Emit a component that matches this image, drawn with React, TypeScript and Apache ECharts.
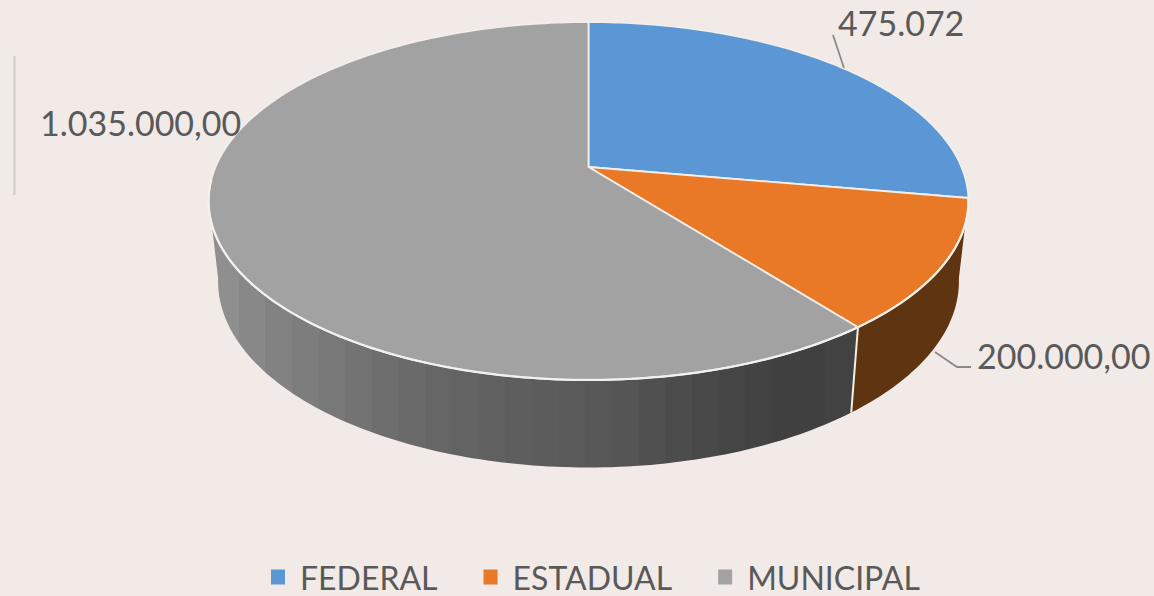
import React, { useEffect, useRef } from "react";
import * as echarts from "echarts";

const categories = ["FEDERAL", "ESTADUAL", "MUNICIPAL"];
const values = [475072, 200000, 1035000];
const valueLabels = ["475.072", "200.000,00", "1.035.000,00"];

const topColors = ["#5b97d5", "#e97827", "#a2a2a2"];
const FONT = "Lato, sans-serif";
const TEXT = "#595959";
const BG = "#f1eae7";
const EDGE = "#f2eeea";

// Perspective disc: a circle seen from above, apex at (CX, CY)
const CX = 588.5, CY = 167, A = 172.5, B = 373, K = 0.19;
const WALL_SX = 0.975, WALL_SY = 1.04, WALL_DY = 79;
const WALL_FROM = 100, WALL_TO = 260;

const project = (deg: number, wall = false): number[] => {
  const r = (deg * Math.PI) / 180;
  const sx = Math.sin(r), sy = -Math.cos(r);
  const w = 1 - K * sy;
  const x = (B * sx) / w, y = (A * sy) / w;
  return wall
    ? [CX + x * WALL_SX, CY + y * WALL_SY + WALL_DY]
    : [CX + x, CY + y];
};

const arc = (from: number, to: number, wall = false): number[][] => {
  const pts: number[][] = [];
  const n = Math.max(2, Math.ceil(Math.abs(to - from)));
  for (let i = 0; i <= n; i++) pts.push(project(from + ((to - from) * i) / n, wall));
  return pts;
};

const total = values.reduce((a, b) => a + b, 0);
const startAngle = (i: number) => (values.slice(0, i).reduce((a, b) => a + b, 0) / total) * 360;

const LABELS = [
  { x: 838, y: 22, line: [[833, 35], [844, 68]] },
  { x: 977, y: 355, line: [[935, 352], [957, 367], [971, 367]] },
  { x: 40, y: 122, line: null as number[][] | null },
];

// Grey wall shading: x position → grey level, drawn in narrow flat bands
const SHADE_X = [212, 260, 400, 500, 620, 700, 800, 852];
const SHADE_V = [146, 134, 107, 95, 86, 72, 63, 67];
const BAND_COUNT = 24;

const shadeAt = (x: number) => {
  let i = 0;
  while (i < SHADE_X.length - 2 && x > SHADE_X[i + 1]) i++;
  const t = (x - SHADE_X[i]) / (SHADE_X[i + 1] - SHADE_X[i]);
  return Math.round(SHADE_V[i] + (SHADE_V[i + 1] - SHADE_V[i]) * t);
};

const wallGradient = () => {
  const stops: { offset: number; color: string }[] = [];
  const x0 = SHADE_X[0], x1 = SHADE_X[SHADE_X.length - 1];
  for (let b = 0; b < BAND_COUNT; b++) {
    const v = shadeAt(x0 + ((b + 0.5) / BAND_COUNT) * (x1 - x0));
    const color = `rgb(${v},${v},${v})`;
    stops.push({ offset: b / BAND_COUNT, color });
    stops.push({ offset: (b + 1) / BAND_COUNT, color });
  }
  return new echarts.graphic.LinearGradient(x0, 0, x1, 0, stops, true);
};

const wallFill = (i: number): any => (i === 1 ? "#5f3410" : i === 2 ? wallGradient() : "none");

const renderSlice = (index: number) => () => {
  const a0 = startAngle(index);
  const a1 = startAngle(index + 1);
  const children: any[] = [];
  // side wall: only the part facing the viewer
  const w0 = Math.max(a0, WALL_FROM);
  const w1 = Math.min(a1, WALL_TO);
  if (w1 > w0) {
    children.push({
      type: "polygon",
      shape: { points: [...arc(w0, w1), ...arc(w1, w0, true)] },
      style: { fill: wallFill(index) },
    });
  }
  // light divider where estadual and municipal meet on the wall
  if (index === 2) {
    children.push({
      type: "line",
      shape: {
        x1: project(a0)[0], y1: project(a0)[1],
        x2: project(a0, true)[0], y2: project(a0, true)[1],
      },
      style: { stroke: EDGE, lineWidth: 2 },
    });
  }
  // top face
  children.push({
    type: "polygon",
    shape: { points: [[CX, CY], ...arc(a0, a1)] },
    style: { fill: topColors[index], stroke: EDGE, lineWidth: 1.8, lineJoin: "round" },
  });
  // brighter rim along the front of the top face
  if (w1 > w0) {
    children.push({
      type: "polyline",
      shape: { points: arc(w0, Math.min(a1, WALL_TO + 6)) },
      style: { stroke: "#f3f1ee", lineWidth: 2.2, fill: "none" },
    });
  }
  // leader and value label
  const lab = LABELS[index];
  if (lab.line) {
    children.push({
      type: "polyline",
      shape: { points: lab.line },
      style: { stroke: "#8c8a88", lineWidth: 1.8, fill: "none" },
    });
  }
  children.push({
    type: "text",
    z2: 50,
    style: {
      text: valueLabels[index],
      x: lab.x,
      y: lab.y,
      fill: TEXT,
      font: `34px ${FONT}`,
      textAlign: "left",
      verticalAlign: "middle",
    },
  });
  return { type: "group", children };
};

export default function App() {
  const ref = useRef<HTMLDivElement>(null);
  useEffect(() => {
    document.body.style.margin = "0";
    const chart = echarts.init(ref.current!, undefined, { renderer: "svg" });
    chart.setOption({
      animation: false,
      backgroundColor: BG,
      legend: {
        left: 271,
        top: 561,
        icon: "rect",
        itemWidth: 14,
        itemHeight: 15,
        itemGap: 46,
        padding: 0,
        data: categories,
        textStyle: {
          color: TEXT,
          fontFamily: "Lato",
          fontSize: 32,
          padding: [0, 0, 6, 10],
        },
      },
      graphic: [
        {
          type: "line",
          shape: { x1: 14.5, y1: 56, x2: 14.5, y2: 195 },
          style: { stroke: "#cfcbc8", lineWidth: 2 },
        },
      ],
      series: categories.map((name, i) => ({
        type: "custom",
        name,
        coordinateSystem: "none",
        data: [values[i]],
        itemStyle: { color: topColors[i] },
        renderItem: renderSlice(i),
        silent: true,
      })),
    });
    return () => chart.dispose();
  }, []);
  return (
    <div
      ref={ref}
      style={{ position: "absolute", left: 0, top: 0, width: 1154, height: 596 }}
    />
  );
}
